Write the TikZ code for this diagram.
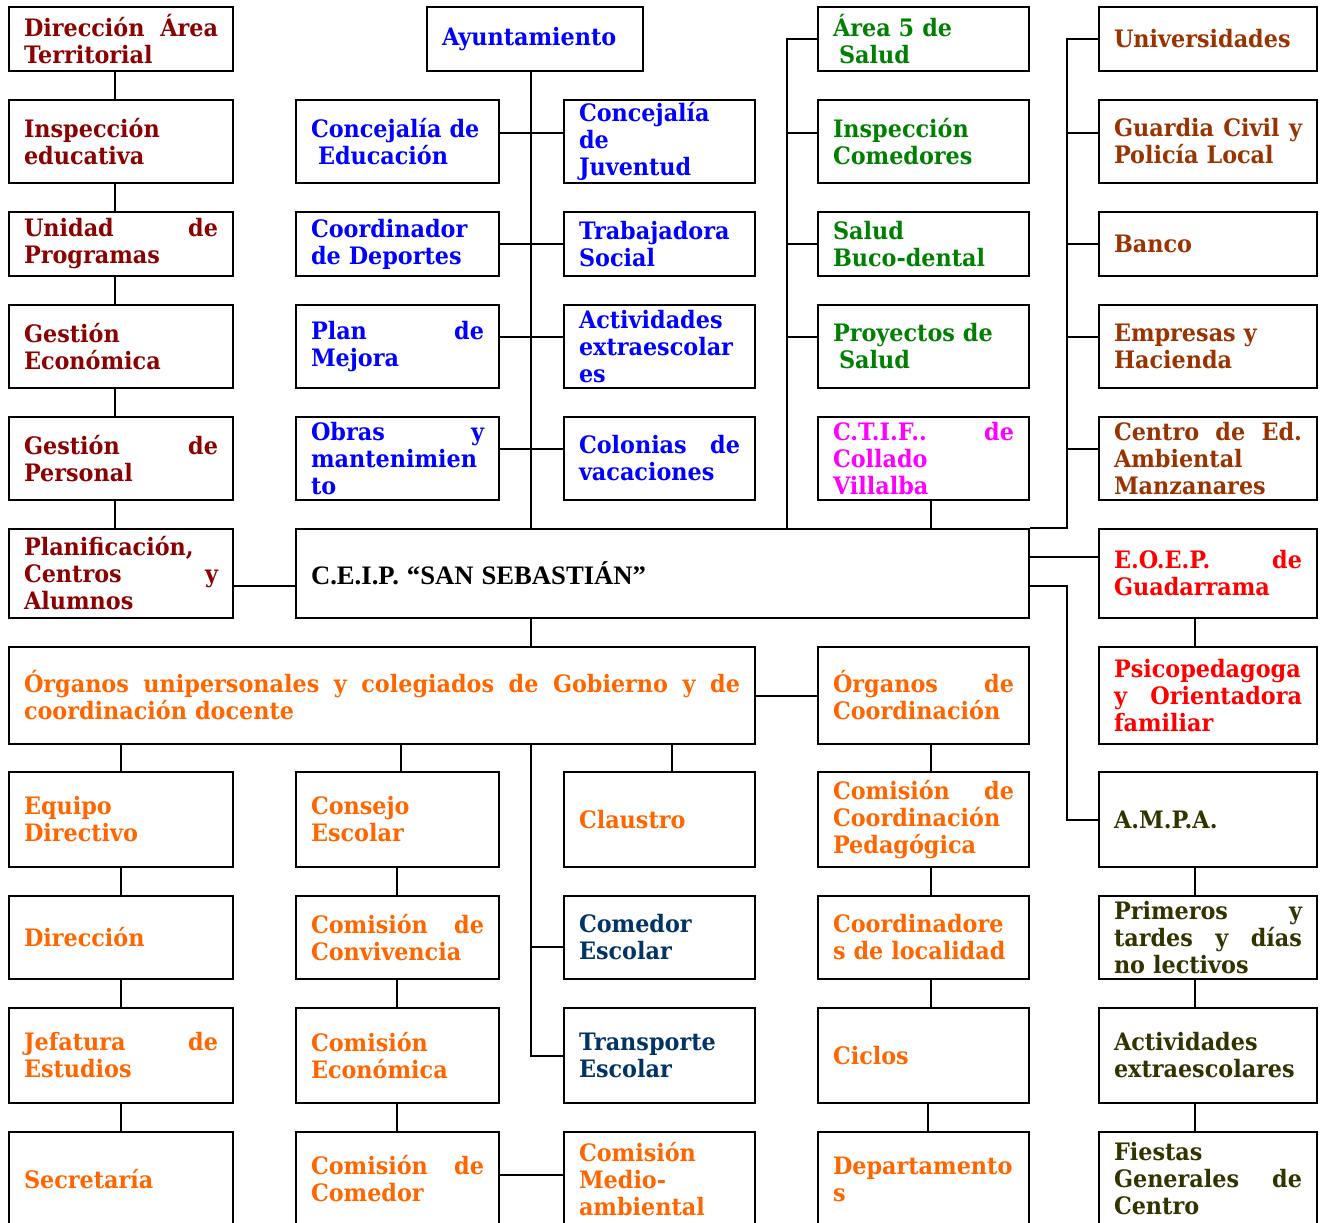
\documentclass[tikz,border=0pt]{standalone}
\usepackage{fontspec}
\setmainfont{DejaVu Serif}[FakeStretch=0.93]
\newfontfamily\ceipfont{Liberation Serif}
\usetikzlibrary{calc}
\newdimen\pxu \pxu=0.75pt
\definecolor{cdred}{RGB}{139,0,0}
\definecolor{cblue}{RGB}{0,0,255}
\definecolor{cgreen}{RGB}{0,128,0}
\definecolor{cbrown}{RGB}{153,51,0}
\definecolor{cmag}{RGB}{255,0,255}
\definecolor{cred}{RGB}{255,0,0}
\definecolor{corange}{RGB}{255,102,0}
\definecolor{cnavy}{RGB}{0,51,102}
\definecolor{colive}{RGB}{51,51,0}
\newcommand\jl[1]{\leavevmode\hbox to\hsize{\spaceskip=0.3em plus 1fil\relax\xspaceskip=0.3em plus 1fil\relax #1}}
\tikzset{
  bx/.style={draw=black, line width=1.5pt, inner xsep=15\pxu, inner ysep=0pt,
    align=left, font=\fontsize{18}{20.25}\selectfont\bfseries,
    execute at begin node={\hyphenpenalty=10000\exhyphenpenalty=10000\parindent=0pt}},
  ln/.style={draw=black, line width=1.5pt}
}
\newcommand\bx[7]{%
  \pgfmathsetmacro\bxcx{(#2+#4)/2}%
  \pgfmathsetmacro\bxcy{(#3+#5)/2}%
  \pgfmathsetmacro\bxw{#4-#2}%
  \pgfmathsetmacro\bxh{#5-#3}%
  \pgfmathsetmacro\bxtw{#4-#2-30}%
  \node[bx, text=#6, minimum width=\bxw\pxu, minimum height=\bxh\pxu, text width=\bxtw\pxu] (#1) at (\bxcx,\bxcy) {#7};}
\begin{document}
\begin{tikzpicture}[x=0.75pt,y=-0.75pt]
\fill[white] (0,0) rectangle (1325,1223);
\useasboundingbox (0,0) rectangle (1325,1223);
% column A (top)
\bx{A1}{9}{7}{233}{71}{cdred}{\jl{Dirección Área}\\Territorial}
\bx{A2}{9}{100}{233}{183}{cdred}{Inspección\\educativa}
\bx{A3}{9}{212}{233}{276}{cdred}{\jl{Unidad de}\\Programas}
\bx{A4}{9}{305}{233}{388}{cdred}{Gestión\\Económica}
\bx{A5}{9}{417}{233}{500}{cdred}{\jl{Gestión de}\\Personal}
\bx{A6}{9}{529}{233}{618}{cdred}{Planificación,\\\jl{Centros y}\\Alumnos}
% column B/C (top)
\bx{B1}{427}{7}{643}{71}{cblue}{Ayuntamiento}
\bx{B2}{296}{100}{499}{183}{cblue}{Concejalía de\\\hspace*{7\pxu}Educación}
\bx{B3}{296}{212}{499}{276}{cblue}{Coordinador\\de Deportes}
\bx{B4}{296}{305}{499}{388}{cblue}{\jl{Plan de}\\Mejora}
\bx{B5}{296}{417}{499}{500}{cblue}{\jl{Obras y}\\mantenimien\\to}
\bx{C2}{564}{100}{755}{183}{cblue}{Concejalía\\de\\Juventud}
\bx{C3}{564}{212}{755}{276}{cblue}{Trabajadora\\Social}
\bx{C4}{564}{305}{755}{388}{cblue}{Actividades\\extraescolar\\es}
\bx{C5}{564}{417}{755}{500}{cblue}{\jl{Colonias de}\\vacaciones}
% column D (top)
\bx{D1}{818}{7}{1029}{71}{cgreen}{Área 5 de\\\hspace*{6\pxu}Salud}
\bx{D2}{818}{100}{1029}{183}{cgreen}{Inspección\\Comedores}
\bx{D3}{818}{212}{1029}{276}{cgreen}{Salud\\Buco-dental}
\bx{D4}{818}{305}{1029}{388}{cgreen}{Proyectos de\\\hspace*{6\pxu}Salud}
\bx{D5}{818}{417}{1029}{500}{cmag}{\jl{C.T.I.F.. de}\\Collado\\Villalba}
% column E
\bx{E1}{1099}{7}{1317}{71}{cbrown}{Universidades}
\bx{E2}{1099}{100}{1317}{183}{cbrown}{\jl{Guardia Civil y}\\Policía Local}
\bx{E3}{1099}{212}{1317}{276}{cbrown}{Banco}
\bx{E4}{1099}{305}{1317}{388}{cbrown}{Empresas y\\Hacienda}
\bx{E5}{1099}{417}{1317}{500}{cbrown}{\jl{Centro de Ed.}\\Ambiental\\Manzanares}
\bx{E6}{1099}{529}{1317}{618}{cred}{\jl{E.O.E.P. de}\\Guadarrama}
\bx{E7}{1099}{647}{1317}{744}{cred}{Psicopedagoga\\\jl{y Orientadora}\\familiar}
\bx{E8}{1099}{772}{1317}{867}{colive}{A.M.P.A.}
\bx{E9}{1099}{896}{1317}{979}{colive}{\jl{Primeros y}\\\jl{tardes y días}\\no lectivos}
\bx{E10}{1099}{1008}{1317}{1103}{colive}{Actividades\\extraescolares}
\bx{E11}{1099}{1132}{1317}{1226}{colive}{Fiestas\\\jl{Generales de}\\Centro}
% centre
\bx{CEIP}{296}{529}{1029}{618}{black}{\ceipfont\fontsize{20}{24}\selectfont C.E.I.P. “SAN SEBASTIÁN”}
% lower part
\bx{O1}{9}{647}{755}{744}{corange}{\jl{Órganos unipersonales y colegiados de Gobierno y de}\\coordinación docente}
\bx{D7}{818}{647}{1029}{744}{corange}{\jl{Órganos de}\\Coordinación}
\bx{A8}{9}{772}{233}{867}{corange}{Equipo\\Directivo}
\bx{A9}{9}{896}{233}{979}{corange}{Dirección}
\bx{A10}{9}{1008}{233}{1103}{corange}{\jl{Jefatura de}\\Estudios}
\bx{A11}{9}{1132}{233}{1226}{corange}{Secretaría}
\bx{B8}{296}{772}{499}{867}{corange}{Consejo\\Escolar}
\bx{B9}{296}{896}{499}{979}{corange}{\jl{Comisión de}\\Convivencia}
\bx{B10}{296}{1008}{499}{1103}{corange}{Comisión\\Económica}
\bx{B11}{296}{1132}{499}{1226}{corange}{\jl{Comisión de}\\Comedor}
\bx{C8}{564}{772}{755}{867}{corange}{Claustro}
\bx{C9}{564}{896}{755}{979}{cnavy}{Comedor\\Escolar}
\bx{C10}{564}{1008}{755}{1103}{cnavy}{Transporte\\Escolar}
\bx{C11}{564}{1132}{755}{1226}{corange}{Comisión\\Medio-\\ambiental}
\bx{D8}{818}{772}{1029}{867}{corange}{\jl{Comisión de}\\Coordinación\\Pedagógica}
\bx{D9}{818}{896}{1029}{979}{corange}{Coordinadore\\s de localidad}
\bx{D10}{818}{1008}{1029}{1103}{corange}{Ciclos}
\bx{D11}{818}{1132}{1029}{1226}{corange}{Departamento\\s}
% helper coordinates
\coordinate (xA) at (115,0);
\coordinate (xAl) at (121,0);
\coordinate (xB) at (401,0);
\coordinate (xBl) at (397,0);
\coordinate (sp) at (531,0);
\coordinate (xC) at (672,0);
\coordinate (sD) at (787,0);
\coordinate (xD) at (931,0);
\coordinate (xDl) at (928,0);
\coordinate (sE) at (1067,0);
\coordinate (xE) at (1195,0);
\coordinate (y133) at (0,133);
\coordinate (y244) at (0,244);
\coordinate (y337) at (0,337);
\coordinate (y449) at (0,449);
\coordinate (y557) at (0,557);
\coordinate (y586) at (0,586);
\coordinate (y947) at (0,947);
\coordinate (y1175) at (0,1175);
% connectors
\foreach \a/\b in {A1/A2,A2/A3,A3/A4,A4/A5,A5/A6}
  \draw[ln] (\a.south -| xA) -- (\b.north -| xA);
\draw[ln] (A6.east |- y586) -- (CEIP.west |- y586);
\draw[ln] (B1.south -| sp) -- (CEIP.north -| sp);
\foreach \a/\b/\y in {B2/C2/y133,B3/C3/y244,B4/C4/y337,B5/C5/y449}
  \draw[ln] (\a.east |- \y) -- (\b.west |- \y);
\draw[ln] (D1.west) -- (D1.west -| sD) -- (CEIP.north -| sD);
\foreach \a/\y in {D2/y133,D3/y244,D4/y337}
  \draw[ln] (\a.west |- \y) -- (sD |- \y);
\draw[ln] (D5.south -| xD) -- (CEIP.north -| xD);
\draw[ln] (E1.west) -- (E1.west -| sE) -- (CEIP.north -| sE) -- (CEIP.north east);
\foreach \a/\y in {E2/y133,E3/y244,E4/y337,E5/y449}
  \draw[ln] (\a.west |- \y) -- (sE |- \y);
\draw[ln] (CEIP.east |- y557) -- (E6.west |- y557);
\draw[ln] (CEIP.east |- y586) -- (sE |- y586) -- (sE |- E8.west) -- (E8.west);
\foreach \a/\b in {E6/E7,E8/E9,E9/E10,E10/E11}
  \draw[ln] (\a.south -| xE) -- (\b.north -| xE);
\draw[ln] (CEIP.south -| sp) -- (O1.north -| sp);
\draw[ln] (O1.east) -- (D7.west);
\draw[ln] (O1.south -| xAl) -- (A8.north -| xAl);
\draw[ln] (O1.south -| xB) -- (B8.north -| xB);
\draw[ln] (O1.south -| xC) -- (C8.north -| xC);
\draw[ln] (O1.south -| sp) -- (sp |- C10.west) -- (C10.west);
\draw[ln] (sp |- y947) -- (C9.west |- y947);
\foreach \a/\b in {A8/A9,A9/A10,A10/A11}
  \draw[ln] (\a.south -| xAl) -- (\b.north -| xAl);
\foreach \a/\b in {B8/B9,B9/B10,B10/B11}
  \draw[ln] (\a.south -| xBl) -- (\b.north -| xBl);
\draw[ln] (B11.east |- y1175) -- (C11.west |- y1175);
\foreach \a/\b in {D7/D8,D8/D9,D9/D10}
  \draw[ln] (\a.south -| xD) -- (\b.north -| xD);
\draw[ln] (D10.south -| xDl) -- (D11.north -| xDl);
\end{tikzpicture}
\end{document}
